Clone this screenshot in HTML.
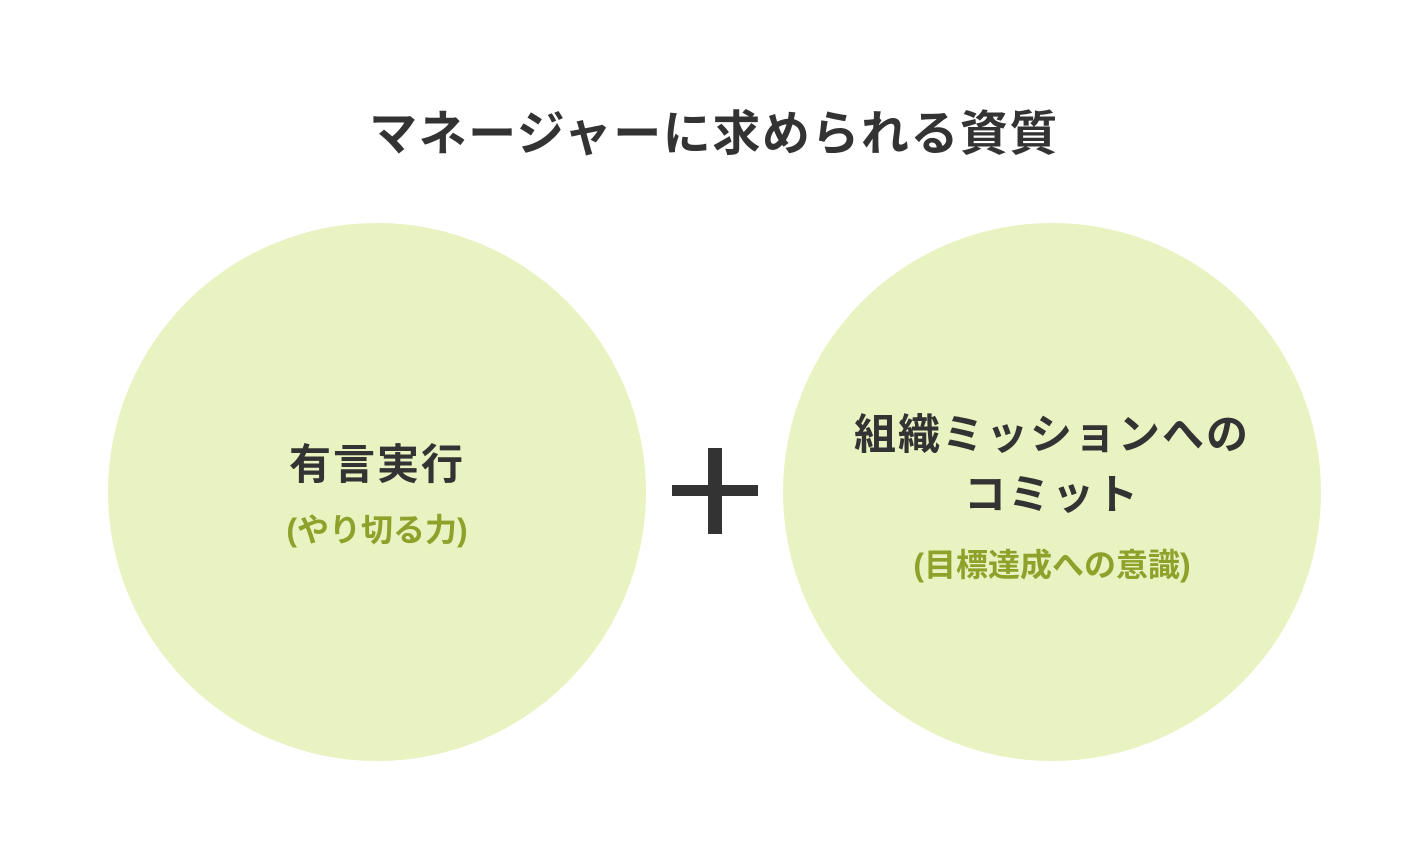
<!DOCTYPE html>
<html><head><meta charset="utf-8"><style>
html,body{margin:0;padding:0;background:#fff;width:1428px;height:848px;overflow:hidden;position:relative;font-family:"Liberation Sans","Noto Sans CJK JP",sans-serif;font-weight:bold;color:#333}
.t{position:absolute;left:0;width:1428px;text-align:center;top:106px;font-size:48px;line-height:58px;letter-spacing:1.5px}
.c{position:absolute;top:223px;width:538px;height:538px;border-radius:50%;background:#e9f2c1}
.m{position:absolute;width:538px;text-align:center;font-size:42px;line-height:60px;letter-spacing:2px}
.s{position:absolute;width:538px;text-align:center;font-size:32px;line-height:40px;color:#8ea12a}
.ph{position:absolute;left:672px;top:485px;width:86px;height:11px;background:#333}
.pv{position:absolute;left:708px;top:448px;width:14px;height:86px;background:#333}
</style></head><body>
<div class="t">マネージャーに求められる資質</div>
<div class="c" style="left:108px"></div>
<div class="c" style="left:783px"></div>
<div class="m" style="left:108px;top:435px">有言実行</div>
<div class="s" style="left:108px;top:510px">(やり切る力)</div>
<div class="m" style="left:783px;top:405px">組織ミッションへの<br>コミット</div>
<div class="s" style="left:783px;top:545px">(目標達成への意識)</div>
<div class="ph"></div><div class="pv"></div>
</body></html>
